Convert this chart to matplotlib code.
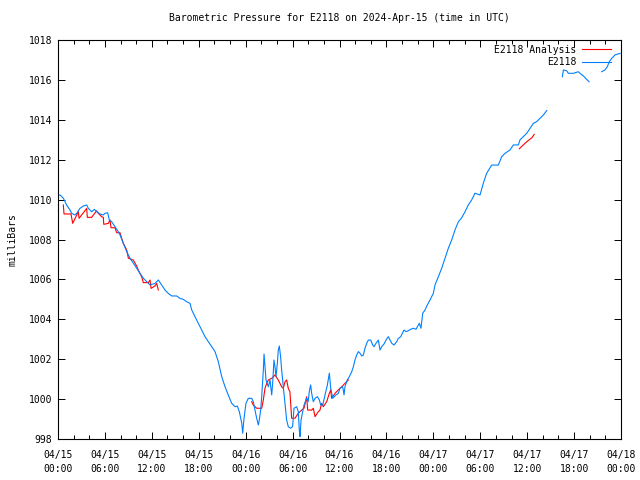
import numpy as np
import matplotlib
matplotlib.use("Agg")
import matplotlib.pyplot as plt
from matplotlib.ticker import FixedLocator, MultipleLocator

nan = np.nan

title = "Barometric Pressure for E2118 on 2024-Apr-15 (time in UTC)"
ylabel = "milliBars"
legend_labels = ["E2118 Analysis", "E2118"]

# hours since 2024-04-15 00:00 UTC
station_hours = [
    0.0, 0.26, 0.68, 1.1, 1.53, 1.75, 2.17, 2.39, 2.81, 3.24, 3.67, 3.88, 4.3, 4.65, 4.95,
    5.37, 5.8, 6.0, 6.35, 6.56, 6.87, 7.29, 7.71, 7.93, 8.35, 8.79, 9.21, 9.63, 10.06, 10.49,
    10.91, 11.34, 11.77, 12.4, 12.83, 13.26, 13.68, 14.1, 14.54, 15.18, 15.6, 16.03, 16.46,
    16.88, 17.1, 17.52, 17.95, 18.38, 18.8, 19.22, 19.66, 20.08, 20.5, 20.94, 21.36, 21.78,
    22.21, 22.64, 22.93, 23.19, 23.5, 23.62, 23.79, 24.04, 24.34, 24.77, 24.98, 25.19, 25.41,
    25.62, 25.74, 25.92, 26.05, 26.26, 26.35, 26.47, 26.6, 26.9, 27.11, 27.33, 27.45, 27.62,
    27.75, 27.88, 28.05, 28.17, 28.3, 28.47, 28.6, 28.73, 28.9, 29.07, 29.24, 29.45, 29.76,
    30.0, 30.18, 30.52, 30.73, 30.86, 30.95, 31.08, 31.29, 31.46, 31.8, 32.0, 32.13, 32.31,
    32.44, 32.65, 32.87, 33.17, 33.42, 33.6, 33.86, 34.15, 34.45, 34.7, 34.88, 35.13, 35.55,
    35.85, 36.06, 36.41, 36.58, 36.7, 37.0, 37.25, 37.56, 37.77, 37.98, 38.2, 38.41, 38.62,
    38.84, 39.05, 39.26, 39.48, 39.69, 39.99, 40.25, 40.41, 40.67, 40.97, 41.18, 41.4, 41.69,
    41.95, 42.24, 42.46, 42.68, 42.97, 43.32, 43.52, 43.83, 44.09, 44.25, 44.51, 44.8, 45.11,
    45.44, 45.79, 45.96, 46.21, 46.42, 46.64, 46.94, 47.23, 47.57, 48.0, 48.21, 48.64, 49.07,
    49.49, 49.92, 50.35, 50.77, 51.2, 51.63, 52.05, 52.47, 52.9, 53.33, 53.97, 54.39, 54.82,
    55.46, 56.31, 56.74, 57.17, 57.81, 58.23, 58.87, 59.09, 59.94, 60.36, 60.79, 61.22, 61.64,
    62.07, 62.5, 63.5,
    64.5, 64.63, 65.05, 65.27, 65.9, 66.54, 66.76, 67.19, 67.6, 67.91, 68.7,
    69.53, 69.95, 70.25, 70.5, 70.81, 71.23, 71.87,
]
station_mb = [
    1010.2, 1010.23, 1010.07, 1009.73, 1009.48, 1009.31, 1009.23, 1009.31, 1009.56, 1009.68,
    1009.73, 1009.56, 1009.39, 1009.51, 1009.39, 1009.28, 1009.23, 1009.31, 1009.34, 1008.98,
    1008.89, 1008.64, 1008.39, 1008.23, 1007.81, 1007.39, 1007.06, 1006.81, 1006.56, 1006.31,
    1006.06, 1005.89, 1005.72, 1005.8, 1005.97, 1005.72, 1005.47, 1005.3, 1005.17, 1005.17,
    1005.05, 1005.0, 1004.88, 1004.8, 1004.47, 1004.13, 1003.8, 1003.46, 1003.13, 1002.88,
    1002.63, 1002.38, 1001.88, 1001.12, 1000.62, 1000.2, 999.79, 999.62, 999.65, 999.37,
    998.79, 998.29, 999.04, 999.79, 1000.04, 1000.04, 999.87, 999.45, 999.04, 998.7, 998.95,
    999.45, 1000.12, 1001.46, 1002.26, 1001.62, 1000.96, 1000.62, 1000.96, 1000.21, 1000.79,
    1001.96, 1001.62, 1001.12, 1001.79, 1002.46, 1002.66, 1002.12, 1001.46, 1000.96, 1000.29,
    999.62, 998.95, 998.62, 998.54, 998.62, 999.54, 999.62, 999.37, 998.45, 998.12, 998.95,
    999.37, 999.7, 1000.04, 999.87, 1000.37, 1000.71, 1000.29, 999.87, 1000.04, 1000.12,
    999.96, 999.7, 999.7, 1000.21, 1000.71, 1001.3, 1000.54, 1000.04, 1000.21, 1000.29,
    1000.54, 1000.62, 1000.21, 1000.62, 1000.96, 1001.12, 1001.37, 1001.62, 1001.96, 1002.21,
    1002.38, 1002.3, 1002.16, 1002.21, 1002.55, 1002.8, 1002.96, 1002.96, 1002.71, 1002.63,
    1002.8, 1002.96, 1002.46, 1002.63, 1002.76, 1002.96, 1003.13, 1002.96, 1002.8, 1002.71,
    1002.88, 1003.04, 1003.13, 1003.33, 1003.46, 1003.38, 1003.43, 1003.5, 1003.55, 1003.5,
    1003.63, 1003.8, 1003.55, 1004.3, 1004.47, 1004.72, 1004.97, 1005.3, 1005.72, 1006.13,
    1006.56, 1007.06, 1007.56, 1007.98, 1008.48, 1008.89, 1009.09, 1009.39, 1009.73, 1009.98,
    1010.32, 1010.23, 1010.82, 1011.32, 1011.73, 1011.73, 1012.15, 1012.32, 1012.49, 1012.74,
    1012.74, 1013.0, 1013.32, 1013.57, 1013.82, 1013.91, 1014.07, 1014.24, 1014.46, nan,
    1016.16, 1016.5, 1016.46, 1016.33, 1016.33, 1016.41, 1016.33, 1016.2, 1016.03, 1015.91, nan,
    1016.41, 1016.5, 1016.66, 1016.91, 1017.08, 1017.25, 1017.33,
]

analysis_hours = [
    0.68, 0.77, 1.66, 1.88, 2.6, 2.69, 3.67, 3.75, 4.3, 4.94, 5.16, 5.58, 5.8, 5.85, 6.44,
    6.65, 6.78, 7.29, 7.5, 7.93, 8.14, 8.35, 8.79, 9.0, 9.63, 10.06, 10.36, 10.7, 10.91,
    11.55, 11.77, 11.9, 12.4, 12.62, 12.83, 18.0,
    24.77, 24.98, 25.41, 26.05, 26.26, 26.47, 26.69, 26.9, 27.33, 27.54, 27.75, 28.17, 28.6,
    28.81, 29.03, 29.24, 29.45, 29.66, 29.88, 30.31, 30.73, 31.16, 31.46, 31.8, 31.93, 32.44,
    32.65, 32.87, 33.29, 33.5, 33.72, 33.93, 34.36, 34.7, 34.88, 35.0, 35.43, 35.85, 36.28,
    36.7, 37.13, 48.0,
    59.0, 59.4, 59.8, 60.27, 60.6, 60.9,
]
analysis_mb = [
    1009.73, 1009.28, 1009.28, 1008.81, 1009.39, 1009.06, 1009.56, 1009.11, 1009.11, 1009.44,
    1009.31, 1009.14, 1009.11, 1008.76, 1008.81, 1008.98, 1008.59, 1008.59, 1008.34, 1008.34,
    1008.06, 1007.81, 1007.47, 1007.06, 1006.97, 1006.67, 1006.39, 1006.14, 1005.84, 1005.84,
    1005.97, 1005.55, 1005.67, 1005.8, 1005.47, nan,
    999.87, 999.7, 999.54, 999.54, 999.96, 1000.54, 1000.79, 1000.96, 1001.04, 1001.12,
    1001.21, 1000.96, 1000.62, 1000.54, 1000.87, 1000.96, 1000.54, 1000.37, 999.04, 999.04,
    999.29, 999.45, 999.54, 1000.12, 999.45, 999.45, 999.54, 999.12, 999.37, 999.45, 999.79,
    999.62, 999.87, 1000.29, 1000.46, 1000.04, 1000.29, 1000.46, 1000.62, 1000.79, 1000.96, nan,
    1012.55, 1012.7, 1012.85, 1013.0, 1013.1, 1013.27,
]

xtick_hours = [0, 6, 12, 18, 24, 30, 36, 42, 48, 54, 60, 66, 72]
xtick_labels = ["04/15\n00:00", "04/15\n06:00", "04/15\n12:00", "04/15\n18:00",
                "04/16\n00:00", "04/16\n06:00", "04/16\n12:00", "04/16\n18:00",
                "04/17\n00:00", "04/17\n06:00", "04/17\n12:00", "04/17\n18:00",
                "04/18\n00:00"]
ytick_values = [998, 1000, 1002, 1004, 1006, 1008, 1010, 1012, 1014, 1016, 1018]

plt.rcParams['font.family'] = ['DejaVu Sans Mono']
plt.rcParams['font.size'] = 7

fig = plt.figure(figsize=(6.4, 4.8), dpi=100)
ax = fig.add_axes([58/640, 1-439/480, (621-58)/640, (439-40)/480])

ax.plot(analysis_hours, analysis_mb, color='#ff0000', lw=0.8, label=legend_labels[0])
ax.plot(station_hours, station_mb, color='#0080ff', lw=0.8, label=legend_labels[1])

ax.set_xlim(0, 72)
ax.set_ylim(998, 1018)
ax.xaxis.set_major_locator(FixedLocator(xtick_hours))
ax.set_xticklabels(xtick_labels, linespacing=1.45)
ax.xaxis.set_minor_locator(MultipleLocator(2))
ax.set_yticks(ytick_values)
ax.set_yticklabels([str(v) for v in ytick_values])
ax.tick_params(which='both', direction='in', top=True, right=True, width=0.7,
               labelsize=7, colors='black')
ax.tick_params(which='major', length=5, pad=4)
ax.tick_params(which='minor', length=3)
ax.tick_params(axis='x', pad=8)
for s in ax.spines.values():
    s.set_linewidth(0.8)

ax.set_title(title, fontsize=7, pad=14)
ax.set_ylabel(ylabel, fontsize=7, labelpad=8)

leg = ax.legend(loc='upper right', bbox_to_anchor=(1.0, 1.013), frameon=False,
                markerfirst=False, fontsize=7,
                handlelength=3.0, handletextpad=0.6, labelspacing=0.25,
                borderaxespad=0.7, borderpad=0.3)

fig.savefig("out.png", dpi=100)
